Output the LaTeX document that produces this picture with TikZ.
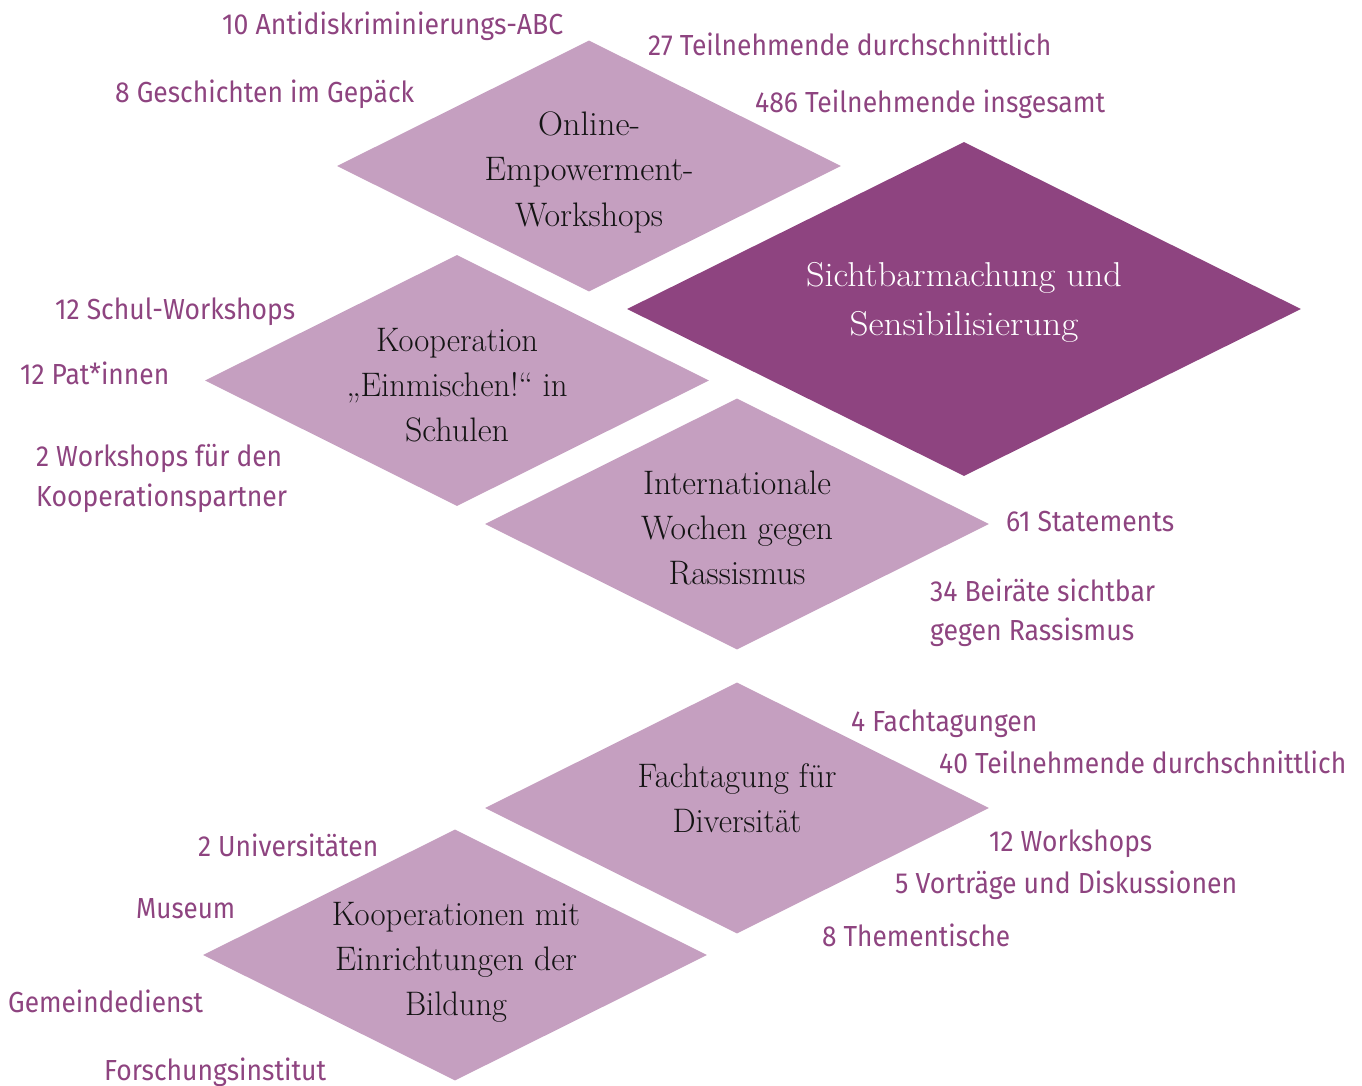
\documentclass[tikz,border=0pt]{standalone}
\usepackage{fontspec}
\usepackage{graphicx}
\usetikzlibrary{shapes.geometric}
\newfontfamily\labfont{Fira Sans}
\definecolor{lightpurple}{HTML}{C59FC0}
\definecolor{darkpurple}{HTML}{8E4480}
\definecolor{labpurple}{HTML}{8E4480}
\newcommand\rw[2]{\resizebox{#1pt}{\height}{#2}}
\tikzset{
  dia/.style={diamond, fill=lightpurple, draw=none, inner sep=0pt, minimum width=504pt, minimum height=251pt},
  bigdia/.style={diamond, fill=darkpurple, draw=none, inner sep=0pt, minimum width=674pt, minimum height=334pt},
  dtext/.style={anchor=base, inner sep=0pt, font=\fontsize{34}{40}\selectfont, text=black!92},
  wtext/.style={anchor=base, inner sep=0pt, font=\fontsize{34.5}{40}\selectfont, text=white},
  lab/.style={anchor=base west, inner sep=0pt, font=\labfont\fontsize{29}{34}\selectfont, text=labpurple}
}
\begin{document}
\begin{tikzpicture}[x=1pt,y=-1pt]
\useasboundingbox (0,0) rectangle (1362,1086);
% diamonds
\node[dia] (d1) at (589,166) {};
\node[dia] (d2) at (457,380.5) {};
\node[bigdia] (d0) at (964,309) {};
\node[dia] (d3) at (737,524) {};
\node[dia] (d4) at (737,808) {};
\node[dia] (d5) at (455,955) {};
% diamond texts
\node[dtext] (d1a) at (589,136) {\rw{102}{Online-}};
\node[dtext] (d1b) at (589,181) {\rw{209}{Empowerment-}};
\node[dtext] (d1c) at (589,226) {\rw{148}{Workshops}};
\node[dtext] (d2a) at (457,351) {\rw{162}{Kooperation}};
\node[dtext] (d2b) at (457,396) {\rw{221}{„Einmischen!“ in}};
\node[dtext] (d2c) at (457,441) {\rw{104}{Schulen}};
\node[wtext] (d0a) at (964,286) {\rw{316}{Sichtbarmachung und}};
\node[wtext] (d0b) at (964,335) {\rw{229}{Sensibilisierung}};
\node[dtext] (d3a) at (737,494) {\rw{188}{Internationale}};
\node[dtext] (d3b) at (737,539) {\rw{192}{Wochen gegen}};
\node[dtext] (d3c) at (737,584) {\rw{137}{Rassismus}};
\node[dtext] (d4a) at (737,787) {\rw{199}{Fachtagung für}};
\node[dtext] (d4b) at (737,832) {\rw{129}{Diversität}};
\node[dtext] (d5a) at (456,925) {\rw{248}{Kooperationen mit}};
\node[dtext] (d5b) at (456,970) {\rw{242}{Einrichtungen der}};
\node[dtext] (d5c) at (456,1015) {\rw{102}{Bildung}};
% labels
\node[lab] (l1) at (222,35) {\rw{341}{10 Antidiskriminierungs-ABC}};
\node[lab] (l2) at (115,103) {\rw{299}{8 Geschichten im Gepäck}};
\node[lab] (l3) at (648,56) {\rw{403}{27 Teilnehmende durchschnittlich}};
\node[lab] (l4) at (755,113) {\rw{350}{486 Teilnehmende insgesamt}};
\node[lab] (l5) at (55,319) {\rw{240}{12 Schul-Workshops}};
\node[lab] (l6) at (20,384) {\rw{149}{12 Pat*innen}};
\node[lab] (l7) at (36,466) {\rw{246}{2 Workshops für den}};
\node[lab] (l8) at (36,506) {\rw{251}{Kooperationspartner}};
\node[lab] (l9) at (1006,531) {\rw{168}{61 Statements}};
\node[lab] (l10) at (930,601) {\rw{225}{34 Beiräte sichtbar}};
\node[lab] (l11) at (930,640) {\rw{204}{gegen Rassismus}};
\node[lab] (l12) at (851,731) {\rw{186}{4 Fachtagungen}};
\node[lab] (l13) at (939,773) {\rw{407}{40 Teilnehmende durchschnittlich}};
\node[lab] (l14) at (989,851) {\rw{163}{12 Workshops}};
\node[lab] (l15) at (895,893) {\rw{342}{5 Vorträge und Diskussionen}};
\node[lab] (l16) at (822,946) {\rw{188}{8 Thementische}};
\node[lab] (l17) at (198,856) {\rw{180}{2 Universitäten}};
\node[lab] (l18) at (136,918) {\rw{99}{Museum}};
\node[lab] (l19) at (8,1012) {\rw{195}{Gemeindedienst}};
\node[lab] (l20) at (104,1080) {\rw{222}{Forschungsinstitut}};
\end{tikzpicture}
\end{document}
